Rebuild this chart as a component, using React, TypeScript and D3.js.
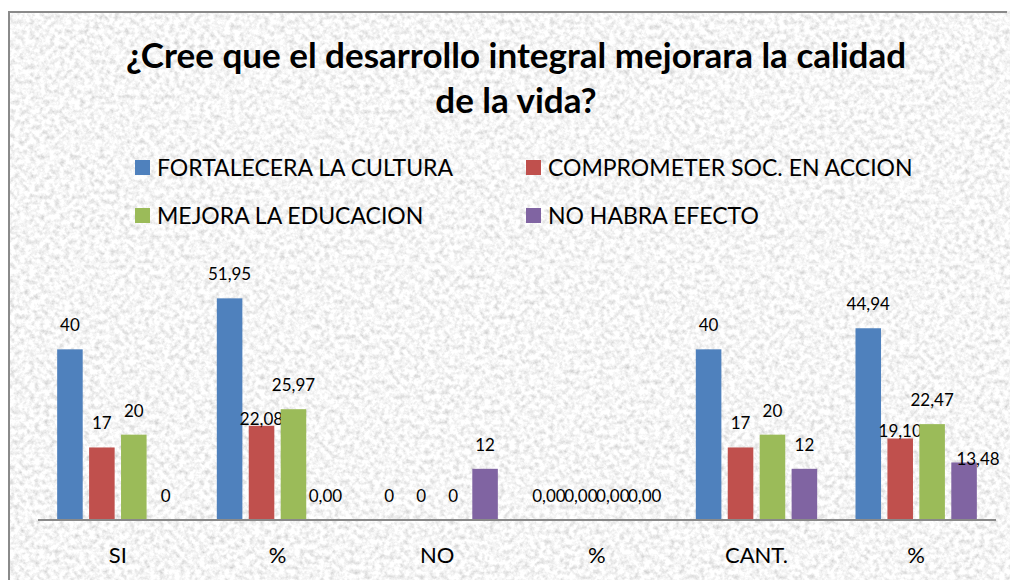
import { useEffect, useRef } from "react";
import * as d3 from "d3";

const categories = ["SI", "%", "NO", "%", "CANT.", "%"];
const decimals = [0, 2, 0, 2, 0, 2];

const seriesNames = [
  "FORTALECERA LA CULTURA",
  "COMPROMETER SOC. EN ACCION",
  "MEJORA LA EDUCACION",
  "NO HABRA EFECTO",
];
const seriesColors = ["#4f81bd", "#c0504d", "#9bbb59", "#8064a2"];

const fortalecera = [40, 51.95, 0, 0.0, 40, 44.94];
const comprometer = [17, 22.08, 0, 0.0, 17, 19.1];
const mejora = [20, 25.97, 0, 0.0, 20, 22.47];
const noEfecto = [0, 0.0, 12, 0.0, 12, 13.48];

const seriesValues = [fortalecera, comprometer, mejora, noEfecto];

// labels that were dragged by hand in the original
const labelNudge: Record<string, [number, number]> = {
  "1-1": [0, 17],
  "5-1": [0, 16],
  "5-3": [14, 21],
};

const W = 1010;
const H = 580;
const FONT = "Lato, 'Open Sans', sans-serif";

const App = () => {
  const svgRef = useRef<SVGSVGElement | null>(null);

  useEffect(() => {
    document.body.style.margin = "0";
    document.documentElement.style.overflow = "hidden";

    const svg = d3.select(svgRef.current).attr("width", W).attr("height", H);
    svg.selectAll("*").remove();

    // paper texture
    const defs = svg.append("defs");
    const f = defs
      .append("filter")
      .attr("id", "paper")
      .attr("x", 0)
      .attr("y", 0)
      .attr("width", 1)
      .attr("height", 1);
    f.append("feTurbulence")
      .attr("type", "fractalNoise")
      .attr("baseFrequency", 0.2)
      .attr("numOctaves", 4)
      .attr("seed", 7);
    f.append("feColorMatrix")
      .attr("type", "matrix")
      .attr(
        "values",
        "0.7 0 0 0 0.57  0.7 0 0 0 0.57  0.7 0 0 0 0.57  0 0 0 0 1"
      );

    svg.append("rect").attr("width", W).attr("height", H).attr("filter", "url(#paper)");
    svg.append("rect").attr("width", W).attr("height", 11).attr("fill", "#fff");
    svg.append("rect").attr("width", 8).attr("height", H).attr("fill", "#fff");
    svg
      .append("path")
      .attr("d", `M9,${H} V12 H1007`)
      .attr("fill", "none")
      .attr("stroke", "#8a8a8a")
      .attr("stroke-width", 2);

    // title
    const title = svg
      .append("text")
      .attr("x", 516)
      .attr("text-anchor", "middle")
      .style("font-family", FONT)
      .style("font-weight", 700)
      .style("font-size", "35px")
      .style("fill", "#000");
    title.append("tspan").attr("x", 516).attr("y", 68).text("¿Cree que el desarrollo integral mejorara la calidad");
    title.append("tspan").attr("x", 516).attr("y", 113).text("de la vida?");

    // legend
    const legendPos = [
      [135, 160],
      [526, 160],
      [135, 208],
      [526, 208],
    ];
    seriesNames.forEach((name, i) => {
      const [lx, ly] = legendPos[i];
      const g = svg.append("g").attr("transform", `translate(${lx},${ly})`);
      g.append("rect").attr("width", 15).attr("height", 15).attr("fill", seriesColors[i]);
      g.append("text")
        .attr("x", 22)
        .attr("y", 16)
        .text(name)
        .style("font-family", FONT)
        .style("font-size", "23px")
        .style("fill", "#000");
    });

    // plot
    const left = 38;
    const right = 996;
    const top = 264;
    const bottom = 520;

    const x0 = d3.scaleBand<string>().domain(categories.map((_, i) => String(i))).range([left, right]);
    const x1 = d3
      .scaleBand<number>()
      .domain(d3.range(seriesNames.length))
      .range([0, x0.bandwidth()])
      .paddingInner(0.2)
      .paddingOuter(0.6);
    const y = d3.scaleLinear().domain([0, 60]).range([bottom, top]);

    svg
      .append("line")
      .attr("x1", left)
      .attr("x2", right)
      .attr("y1", y(60))
      .attr("y2", y(60))
      .attr("stroke", "#fafafa")
      .attr("stroke-width", 1.5)
      .attr("opacity", 0.8);

    categories.forEach((cat, ci) => {
      const g = svg.append("g").attr("transform", `translate(${x0(String(ci))},0)`);
      seriesValues.forEach((vals, si) => {
        const v = vals[ci];
        const bx = x1(si)!;
        const bw = x1.bandwidth();
        g.append("rect")
          .attr("x", bx)
          .attr("y", y(v))
          .attr("width", bw)
          .attr("height", bottom - y(v))
          .attr("fill", seriesColors[si]);
        const [dx, dy] = labelNudge[`${ci}-${si}`] || [0, 0];
        g.append("text")
          .attr("x", bx + bw / 2 + dx)
          .attr("y", y(v) - 18 + dy)
          .attr("text-anchor", "middle")
          .text(v.toFixed(decimals[ci]).replace(".", ","))
          .style("font-family", FONT)
          .style("font-size", "17px")
          .style("fill", "#000");
      });
      svg
        .append("text")
        .attr("x", x0(String(ci))! + x0.bandwidth() / 2)
        .attr("y", 563)
        .attr("text-anchor", "middle")
        .text(cat)
        .style("font-family", FONT)
        .style("font-size", "22px")
        .style("fill", "#000");
    });

    svg
      .append("line")
      .attr("x1", left)
      .attr("x2", right)
      .attr("y1", bottom)
      .attr("y2", bottom)
      .attr("stroke", "#898989")
      .attr("stroke-width", 2);
  }, []);

  return <svg ref={svgRef} style={{ position: "absolute", left: 0, top: 0, display: "block" }} />;
};

export default App;
